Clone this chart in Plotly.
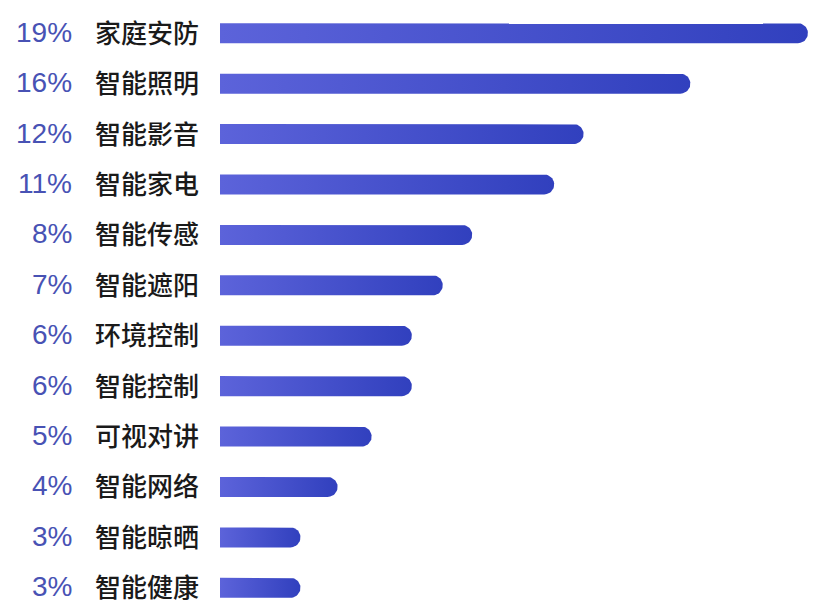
import numpy as np
import plotly.graph_objects as go

# categories top to bottom
categories = ["家庭安防", "智能照明", "智能影音", "智能家电", "智能传感", "智能遮阳",
              "环境控制", "智能控制", "可视对讲", "智能网络", "智能晾晒", "智能健康"]
pct_labels = ["19%", "16%", "12%", "11%", "8%", "7%", "6%", "6%", "5%", "4%", "3%", "3%"]
# bar lengths (same unit as the percentages)
values = [19.0, 15.2, 11.75, 10.8, 8.15, 7.2, 6.2, 6.2, 4.9, 3.8, 2.6, 2.6]

X_MAX = 19.39
PLOT_W = 600
PLOT_H = 605
half_h = 0.5 * 20 / (PLOT_H / 12)       # bar half-thickness in y units
rad_x = 10 * X_MAX / PLOT_W             # end-cap radius in x units


def bar_shape(v, yc):
    """Outline of a bar with a rounded right end."""
    t = np.linspace(np.pi / 2, -np.pi / 2, 25)
    xs = [0, v - rad_x] + list(v - rad_x + rad_x * np.cos(t)) + [v - rad_x, 0, 0]
    ys = [yc - half_h, yc - half_h] + list(yc - half_h * np.sin(t)) + [yc + half_h, yc + half_h, yc - half_h]
    return xs, ys


fig = go.Figure()
for i, v in enumerate(values):
    xs, ys = bar_shape(v, i)
    fig.add_trace(go.Scatter(
        x=xs, y=ys, mode="lines", fill="toself",
        line=dict(width=0),
        fillgradient=dict(type="horizontal",
                          colorscale=[[0, "#5c63da"], [1, "#3140be"]]),
        hoverinfo="skip", showlegend=False,
    ))
    fig.add_annotation(x=0, y=i, xref="x", yref="y", text=pct_labels[i],
                       showarrow=False, xanchor="right", xshift=-146, yshift=1,
                       font=dict(family="Liberation Sans", size=28, color="#4852b4"))
    fig.add_annotation(x=0, y=i, xref="x", yref="y", text=categories[i],
                       showarrow=False, xanchor="left", xshift=-127, yshift=2,
                       font=dict(family="Noto Sans CJK SC", size=26, color="#1a1a1a",
                                 weight=500))

fig.update_xaxes(range=[0, X_MAX], visible=False, fixedrange=True)
fig.update_yaxes(range=[11.5, -0.5], visible=False, fixedrange=True)
fig.update_layout(
    width=812, height=606,
    margin=dict(l=212, r=0, t=0, b=1),
    plot_bgcolor="white", paper_bgcolor="white",
)

fig.write_html("out.html")
